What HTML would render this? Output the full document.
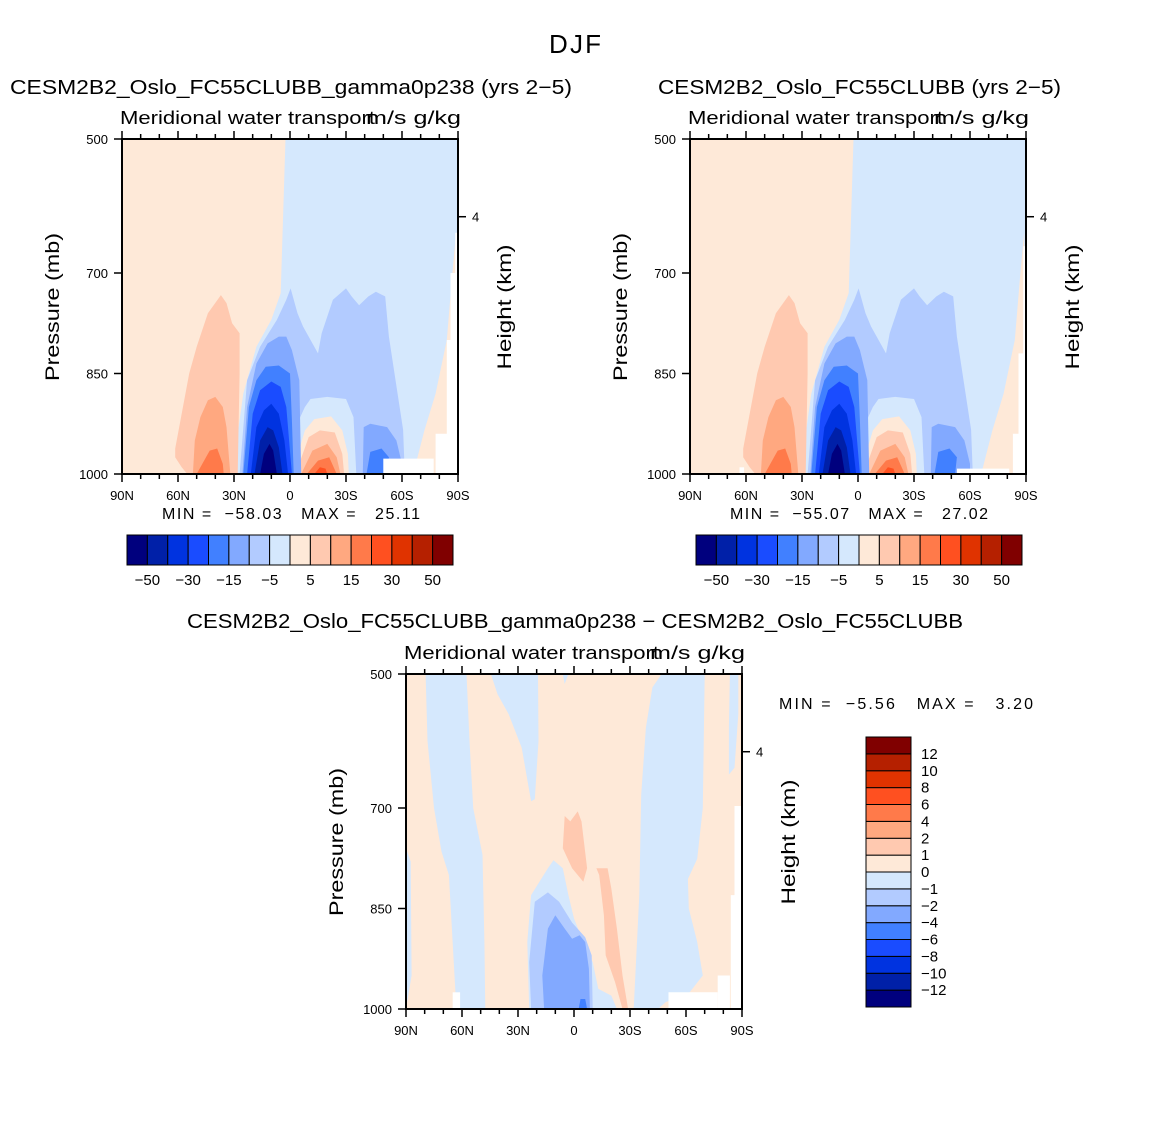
<!DOCTYPE html>
<html><head><meta charset="utf-8"><style>
body{margin:0;background:#fff;}
svg{display:block;font-family:"Liberation Sans",sans-serif;}
.pre{white-space:pre;}
</style></head><body>
<svg id="fig" width="1150" height="1148" viewBox="0 0 1150 1148">
<text x="575" y="53" font-size="26" text-anchor="middle" textLength="52">DJF</text>
<text x="10" y="94" font-size="20" textLength="562" lengthAdjust="spacingAndGlyphs">CESM2B2_Oslo_FC55CLUBB_gamma0p238 (yrs 2−5)</text>
<text x="658" y="94" font-size="20" textLength="403" lengthAdjust="spacingAndGlyphs">CESM2B2_Oslo_FC55CLUBB (yrs 2−5)</text>
<text x="187" y="628" font-size="20" textLength="776" lengthAdjust="spacingAndGlyphs">CESM2B2_Oslo_FC55CLUBB_gamma0p238 − CESM2B2_Oslo_FC55CLUBB</text>
<g id="plots"></g>
</svg>
<script>
// ---- data ----
const latTicks = [90, 60, 30, 0, -30, -60, -90];
const latTickLabels = ["90N", "60N", "30N", "0", "30S", "60S", "90S"];
const presTicks = [500, 700, 850, 1000];
const heightTickP = 616;
const cbLevels1 = [-50,-40,-30,-20,-15,-10,-5,0,5,10,15,20,30,40,50];
const cbLabels1 = ["−50","−30","−15","−5","5","15","30","50"];
const cbLevels3 = [-12,-10,-8,-6,-4,-2,-1,0,1,2,4,6,8,10,12];
const colors = ["#00007e","#0020a8","#0033e0","#1a4cff","#4180ff","#82a9ff","#b2cbff","#d5e8fd","#fee9d8","#ffc9b0","#ffa880","#ff7a4a","#ff5020","#e03300","#b52000","#800000"];
const minMax1 = ["−58.03","25.11"];
const minMax2 = ["−55.07","27.02"];
const minMax3 = ["−5.56","3.20"];

// contour regions: [colorIndex, [[lat,p],...]]
const fieldA = [
 [7, [[2.4,500],[-90,500],[-90,1000],[28.5,1000],[28,940],[25,880],[18,810],[10,770],[5,730]]],
 [8, [[-89,640],[-87,700],[-84,800],[-78,880],[-72,935],[-66,1000],[-90,1000]]],
 [6, [[27,1000],[23,860],[16,810],[7,770],[2,740],[-0.3,723],[-4,760],[-7,780],[-15,820],[-17,790],[-23,740],[-30,723],[-33,735],[-37,748],[-42,735],[-46,728],[-51,735],[-53,795],[-56,850],[-60.6,934],[-61.5,1000]]],
 [7, [[2,1000],[-3,930],[-8,900],[-11,888],[-20,885],[-30,888],[-34,915],[-35.5,1000]]],
 [8, [[-1,1000],[-8,935],[-13,918],[-22,914],[-28,935],[-31,970],[-31.5,1000]]],
 [9, [[-3,1000],[-10,945],[-16,935],[-24,938],[-28,970],[-29,1000]]],
 [10,[[-6,1000],[-12,965],[-20,955],[-25,975],[-27,1000]]],
 [11,[[-9,1000],[-15,980],[-21,975],[-25,1000]]],
 [12,[[-13,1000],[-16,990],[-19,992],[-20,1000]]],
 [5, [[25.5,1000],[23,900],[18,835],[12,805],[6,795],[2,795],[-1,815],[-5,860],[-6,1000]]],
 [5, [[-39,1000],[-39.5,930],[-43,925],[-52,930],[-57,950],[-60,985],[-60,1000]]],
 [4, [[25,1000],[22,900],[18,860],[13,840],[6,838],[0,850],[-1,920],[-2,1000]]],
 [4, [[-41,1000],[-43,967],[-49,962],[-53,975],[-52,1000]]],
 [3, [[23,1000],[20,910],[16,875],[10,862],[5,870],[2,900],[-1,1000]]],
 [2, [[21,1000],[18,930],[14,905],[10,895],[6,910],[3,950],[1,1000]]],
 [1, [[19,1000],[16,950],[12,930],[9,935],[6,960],[4,1000]]],
 [0, [[16,1000],[14,970],[11,955],[9,965],[7,1000]]],
 [9, [[55,1000],[58,990],[61.5,975],[61.5,962],[58,910],[54,850],[50,810],[44,760],[37,733],[34,745],[31,775],[27,790],[27,850],[28,1000]]],
 [10,[[52,1000],[51,950],[48,915],[44,890],[40,885],[36,900],[34,930],[32,1000]]],
 [11,[[50,1000],[47,985],[43,965],[39,962],[36,985],[35.5,1000]]],
 [-1,[[-50,977],[-77,977],[-77,1000],[-50,1000]]],
 [-1,[[-90,640],[-88.5,640],[-88.5,700],[-86,700],[-86,800],[-84,800],[-84,940],[-78,940],[-78,1000],[-90,1000]]]
];
const fieldB = fieldA.slice(0, fieldA.length-2).concat([
 [-1,[[-53,992],[-81,992],[-81,1000],[-53,1000]]],
 [-1,[[-90,660],[-88.5,660],[-88.5,820],[-86,820],[-86,940],[-83,940],[-83,1000],[-90,1000]]],
 [-1,[[63.5,990],[61,990],[61,1000],[63.5,1000]]]
]);
const fieldC = [
 [7, [[79.5,500],[57.6,500],[56,600],[54,700],[49,770],[48,900],[47.5,1000],[63,1000],[64,950],[67,800],[71,765],[75,700],[78.5,600]]],
 [7, [[90,760],[87.5,780],[87,950],[90,1000]]],
 [7, [[44.5,500],[19.3,500],[19,600],[21,687],[23,690],[28,610],[35,560],[41,530]]],
 [7, [[24,1000],[25,900],[23,830],[14,790],[11,778],[6,790],[3,830],[0,865],[-5,900],[-10,930],[-13,970],[-20,980],[-23,1000]]],
 [7, [[-47,500],[-70,500],[-69,700],[-66,776],[-61,806],[-61.5,850],[-66,900],[-69,950],[-62,975],[-49,990],[-45,1000],[-32,1000],[-35,830],[-36,680],[-38.5,580],[-42,520]]],
 [7, [[3,500],[6,500],[5,515]]],
 [7, [[-83.5,500],[-88,500],[-88,560],[-86,640],[-83,650],[-83,580]]],
 [6, [[23,1000],[24,930],[21,840],[14,826],[8,840],[1,871],[-6,893],[-9.5,920],[-10,1000]]],
 [5, [[16,1000],[17,950],[14,880],[10,860],[5,880],[1,895],[-3,890],[-6,900],[-8,940],[-8.5,1000]]],
 [4, [[-2.5,1000],[-3.5,985],[-6,985],[-7,1000]]],
 [9, [[5,712],[2,720],[-2,705],[-4,720],[-7,790],[-5,810],[1,790],[6,760]]],
 [9, [[-12,790],[-13.5,800],[-16,860],[-17,920],[-22,960],[-26,1000],[-29,1000],[-26,950],[-23,880],[-20,820],[-18,790]]],
 [-1,[[65,975],[61,975],[61,1000],[65,1000]]],
 [-1,[[-50.6,975],[-77,975],[-77,1000],[-50.6,1000]]],
 [-1,[[-77,950],[-83.5,950],[-83.5,1000],[-77,1000]]],
 [-1,[[-86,697],[-90,697],[-90,1000],[-84,1000],[-84,830],[-86,830]]]
];

// ---- drawing ----
const NS = "http://www.w3.org/2000/svg";
const root = document.getElementById("plots");
function mk(tag, attrs, parent){const e=document.createElementNS(NS,tag);for(const k in attrs)e.setAttribute(k,attrs[k]);(parent||root).appendChild(e);return e;}

function panel(id, x0, y0, field, mm, mmX, mmY, mmW){
  const w=336,h=335;
  const X = lat => x0 + (90-lat)/180*w;
  const Y = p => y0 + (p-500)/500*h;
  const g = mk("g",{});
  
  
  const bg = mk("rect",{x:x0,y:y0,width:w,height:h,fill:"#fee9d8"},g);
  
  
  field.forEach((f,i)=>{
    const pts=f[1].map(q=>X(q[0]).toFixed(1)+","+Y(q[1]).toFixed(1)).join(" ");
    const poly=mk("polygon",{points:pts,fill:f[0]<0?"#fff":colors[f[0]]},g);
    
    
  });
  const frame=mk("rect",{x:x0,y:y0,width:w,height:h,fill:"none",stroke:"#000","stroke-width":2},g);
  
  
  for(let lat=90;lat>=-90;lat-=10){
    const major = lat%30===0, L = major?8:5;
    mk("line",{x1:X(lat),x2:X(lat),y1:y0+h,y2:y0+h+L,stroke:"#000","stroke-width":1.5},g);
    mk("line",{x1:X(lat),x2:X(lat),y1:y0,y2:y0-L,stroke:"#000","stroke-width":1.5},g);
  }
  latTicks.forEach((lat,i)=>{
    const t=mk("text",{x:X(lat),y:y0+h+26,"font-size":13,"text-anchor":"middle"},g);
    t.textContent=latTickLabels[i];
    
    
  });
  presTicks.forEach(p=>{
    mk("line",{x1:x0,x2:x0-8,y1:Y(p),y2:Y(p),stroke:"#000","stroke-width":1.5},g);
    const t=mk("text",{x:x0-14,y:Y(p)+5,"font-size":13,"text-anchor":"end"},g);
    t.textContent=p;
    
    
  });
  mk("line",{x1:x0+w,x2:x0+w+8,y1:Y(heightTickP),y2:Y(heightTickP),stroke:"#000","stroke-width":1.5},g);
  const ht=mk("text",{x:x0+w+14,y:Y(heightTickP)+5,"font-size":13},g);
  ht.textContent="4";
  
  
  const yt=mk("text",{transform:`translate(${x0-63},${y0+168}) rotate(-90)`,"font-size":19,"text-anchor":"middle",textLength:148,lengthAdjust:"spacingAndGlyphs"},g);
  yt.textContent="Pressure (mb)";
  
  
  const rt=mk("text",{transform:`translate(${x0+w+53},${y0+168}) rotate(-90)`,"font-size":19,"text-anchor":"middle",textLength:125,lengthAdjust:"spacingAndGlyphs"},g);
  rt.textContent="Height (km)";
  
  
  const st=mk("text",{x:x0-2,y:y0-15,"font-size":18,textLength:255,lengthAdjust:"spacingAndGlyphs"},g);
  st.textContent="Meridional water transport";
  
  
  const un=mk("text",{x:x0+w+3,y:y0-15,"font-size":18,"text-anchor":"end",textLength:95,lengthAdjust:"spacingAndGlyphs"},g);
  un.textContent="m/s g/kg";
  
  
  const mt=mk("text",{x:mmX,y:mmY,"font-size":16,"class":"pre",textLength:mmW,lengthAdjust:"spacing"},g);
  mt.textContent="MIN =  "+mm[0]+"   MAX =   "+mm[1];
  
  
}

function hbar(id, x0, y0){
  const w=326, h=30, n=colors.length, bw=w/n;
  colors.forEach((c,i)=>{
    const r=mk("rect",{x:x0+i*bw,y:y0,width:bw,height:h,fill:c,stroke:"#000","stroke-width":1});
    
    
  });
  cbLevels1.forEach((v,i)=>{
    if(i%2!==0) return;
    const t=mk("text",{x:x0+(i+1)*bw,y:y0+h+20,"font-size":15,"text-anchor":"middle"});
    t.textContent=cbLabels1[i/2];
    
    
  });
}
function vbar(id, x0, y0){
  const w=45, h=270, n=colors.length, bh=h/n;
  colors.forEach((c,i)=>{
    const r=mk("rect",{x:x0,y:y0+(n-1-i)*bh,width:w,height:bh,fill:c,stroke:"#000","stroke-width":1});
    
    
  });
  cbLevels3.forEach((v,i)=>{
    const t=mk("text",{x:x0+55,y:y0+(n-1-i)*bh+5,"font-size":15});
    t.textContent=(v<0?"−"+(-v):String(v));
    
    
  });
}

panel("panel1",122,139,fieldA,minMax1,162,519,258);
panel("panel2",690,139,fieldB,minMax2,730,519,258);
panel("panel3",406,674,fieldC,minMax3,779,709,254);
hbar("colorbar1",127,535);
hbar("colorbar2",696,535);
vbar("colorbar3",866,737);
</script>
</body></html>
